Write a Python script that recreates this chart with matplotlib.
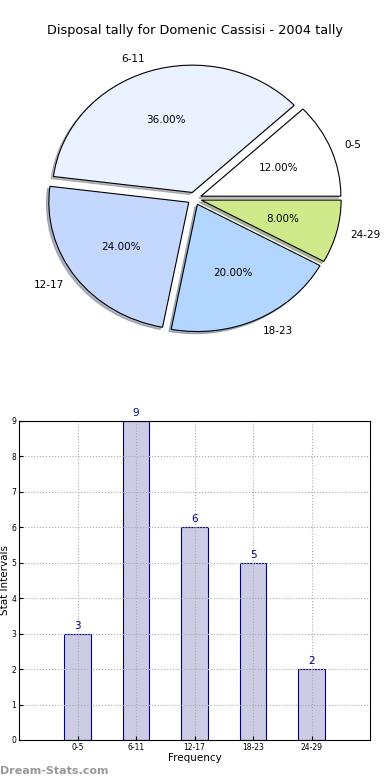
import matplotlib
matplotlib.use("Agg")
import matplotlib.pyplot as plt

intervals = ["0-5", "6-11", "12-17", "18-23", "24-29"]
counts = [3, 9, 6, 5, 2]
slice_colors = ["#FFFFFF", "#EBF2FF", "#C4D8FF", "#B2D6FF", "#CFEA8A"]

fig = plt.figure(figsize=(3.9, 7.8), dpi=100)

# pie on top
ax_pie = fig.add_axes([0.05, 0.5415, 0.897, 0.408])
ax_pie.pie(
    counts,
    labels=intervals,
    colors=slice_colors,
    explode=[0.05] * len(counts),
    autopct="%.2f%%",
    shadow={"ox": -0.012, "oy": -0.012, "shade": 0.5},
    startangle=0,
    wedgeprops={"edgecolor": "black", "linewidth": 0.8},
    textprops={"fontsize": 7.5},
)
ax_pie.set_aspect("auto")
ax_pie.set_xlim(-1.25, 1.25)
ax_pie.set_ylim(-1.25, 1.25)
fig.text(0.5, 0.961, "Disposal tally for Domenic Cassisi - 2004 tally",
         ha="center", va="center", fontsize=9.3)

# bar chart below
ax_bar = fig.add_axes([0.049, 0.0513, 0.9, 0.409])
x = list(range(len(intervals)))
ax_bar.bar(x, counts, width=0.45, color="#CCCCE5", edgecolor="navy",
           linewidth=0.8, zorder=2)
for xi, c in zip(x, counts):
    ax_bar.text(xi, c + 0.08, str(c), ha="center", va="bottom",
                color="navy", fontsize=7.5)
ax_bar.set_xlim(-1, 5)
ax_bar.set_ylim(0, 9)
ax_bar.set_xticks(x)
ax_bar.set_xticklabels(intervals)
ax_bar.set_yticks(range(10))
ax_bar.tick_params(labelsize=5.5, length=3, direction="in", pad=2)
ax_bar.grid(True, linestyle=":", color="#AAAAAA", linewidth=0.8)
ax_bar.set_axisbelow(False)
for sp in ax_bar.spines.values():
    sp.set_zorder(4)
ax_bar.set_xlabel("Frequency", fontsize=7.5, labelpad=1)
ax_bar.set_ylabel("Stat Intervals", fontsize=7.5, labelpad=1)

fig.text(0.0, 0.012, "Dream-Stats.com", ha="left", va="center",
         fontsize=8, color="#999999", fontweight="bold")

plt.savefig("out.png", dpi=100)
plt.close()
